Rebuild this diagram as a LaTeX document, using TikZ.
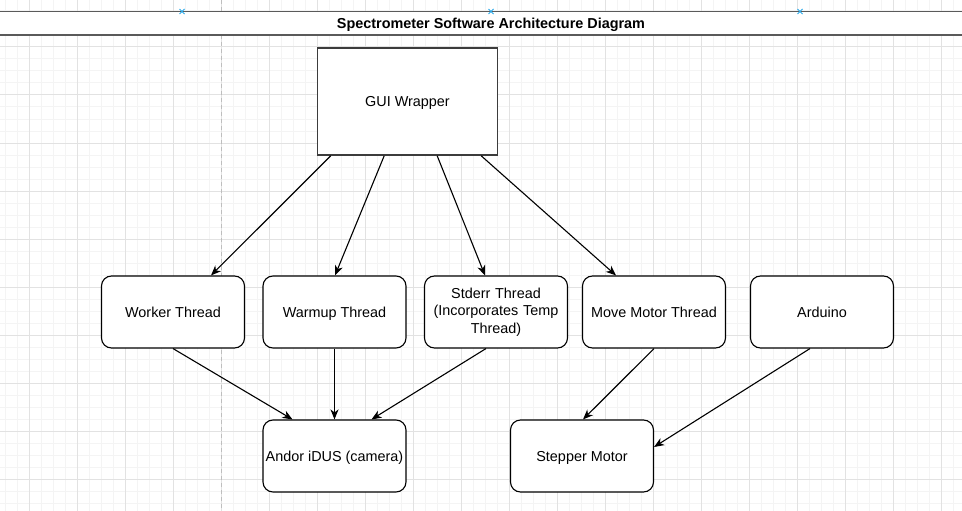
\documentclass[tikz,border=0pt]{standalone}
\usepackage{fontspec}
\setmainfont{Liberation Sans}
\usetikzlibrary{arrows.meta,calc}
\definecolor{gridminor}{RGB}{244,244,244}
\definecolor{gridmajor}{RGB}{226,226,226}
\definecolor{barline}{RGB}{90,90,90}
\definecolor{guiline}{RGB}{60,60,60}
\definecolor{handle}{RGB}{41,170,235}
\definecolor{pageline}{RGB}{190,190,190}
\begin{document}
\begin{tikzpicture}[x=1pt,y=-1pt,
  minorline/.style={draw=gridminor,line width=1pt},
  majorline/.style={draw=gridmajor,line width=1pt},
  box/.style={draw=black,line width=1.1pt,rounded corners=10pt,fill=white,
    minimum width=143pt,minimum height=72pt,inner sep=0pt,
    font=\fontsize{14.4}{17.5}\selectfont,text height=13pt,text depth=3pt},
  multibox/.style={box,text height=,text depth=,align=center,text width=140pt},
  guibox/.style={draw=guiline,line width=1.6pt,fill=white,
    minimum width=180pt,minimum height=107pt,inner sep=0pt,
    font=\fontsize{14.4}{17.5}\selectfont,text height=13pt,text depth=3pt},
  arr/.style={-{Stealth[length=10pt,width=8pt,inset=3pt]},line width=1.1pt},
  handlemark/.style={draw=handle,line width=0.9pt}]
\useasboundingbox (0,0) rectangle (962,511);
\fill[white] (0,0) rectangle (962,511);
% grid
\foreach \x in {5,17,...,965} \draw[minorline] (\x,0) -- (\x,511);
\foreach \y in {11,23,...,515} \draw[minorline] (0,\y) -- (962,\y);
\foreach \x in {29,77,...,941} \draw[majorline] (\x,0) -- (\x,511);
\foreach \y in {47,95,...,479} \draw[majorline] (0,\y) -- (962,\y);
% page break line
\draw[pageline,dashed,dash pattern=on 4pt off 3pt,line width=0.9pt] (221,0) -- (221,511);
% title bar
\node[fill=white,minimum width=980pt,minimum height=23.5pt,inner sep=0pt] (titlebar) at (481,23.25) {};
\draw[barline,line width=1.5pt] (titlebar.north west) -- (titlebar.north east);
\draw[barline,line width=1.5pt] (titlebar.south west) -- (titlebar.south east);
\node[font=\fontsize{14.4}{17}\selectfont\bfseries,anchor=base] (title) at (491,28.5) {Spectrometer Software Architecture Diagram};
\foreach \hx in {182,491,800} {
  \draw[handlemark] (\hx-2.5,9) -- (\hx+2.5,14);
  \draw[handlemark] (\hx-2.5,14) -- (\hx+2.5,9);
}
% nodes
\node[guibox] (gui) at (407.5,101.5) {GUI Wrapper};
\node[box] (worker) at (173,312) {Worker Thread};
\node[box] (warmup) at (334.5,312) {Warmup Thread};
\node[multibox] (stderr) at (496,312) {Stderr Thread\\(Incorporates Temp\\Thread)};
\node[box] (move) at (654,312) {Move Motor Thread};
\node[box] (arduino) at (822,312) {Arduino};
\node[box] (andor) at (334.5,456) {Andor iDUS (camera)};
\node[box] (stepper) at (582,456) {Stepper Motor};
% connectors
\draw[arr] ([xshift=14pt]gui.south west) -- ([xshift=38pt]worker.north);
\draw[arr] ([xshift=67.5pt]gui.south west) -- ([xshift=0.5pt]warmup.north);
\draw[arr] ([xshift=120.5pt]gui.south west) -- ([xshift=-11pt]stderr.north);
\draw[arr] ([xshift=164.5pt]gui.south west) -- ([xshift=-38pt]move.north);
\draw[arr] (worker.south) -- ([xshift=-42pt]andor.north);
\draw[arr] (warmup.south -| andor.north) -- (andor.north);
\draw[arr] ([xshift=-10pt]stderr.south) -- ([xshift=37pt]andor.north);
\draw[arr] (move.south) -- ([xshift=1pt]stepper.north);
\draw[arr] ([xshift=-12pt]arduino.south) -- ([yshift=9pt]stepper.east);
\end{tikzpicture}
\end{document}
